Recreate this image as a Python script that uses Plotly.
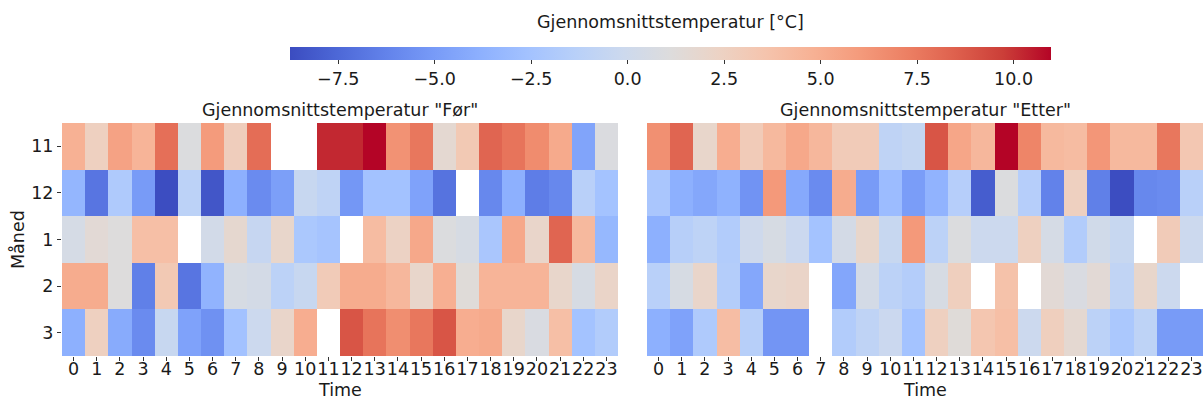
import plotly.graph_objects as go

hours = list(range(24))
months = ["11", "12", "1", "2", "3"]
N = None

before_11 = [4.8, 2.6, 5.6, 4.6, 7.9, 1.0, 6.0, 2.8, 8.0, N, N, 10.2, 10.2, 11.0, 6.4, 7.6, 1.7, 3.2, 8.3, 7.7, 6.7, 5.2, -4.5, 0.9]
before_12 = [-3.4, -6.9, -1.9, -5.0, -8.7, -1.1, -8.3, -3.8, -5.8, -4.8, -0.4, -0.9, -5.2, -2.6, -2.6, -4.6, -7.0, N, -6.0, -3.8, -6.5, -6.0, -1.3, -2.5]
before_1 = [0.5, 1.5, 1.1, 3.9, 3.9, N, 0.3, 1.8, -0.5, 2.0, -2.1, -2.4, N, 4.1, 2.4, 5.3, 1.0, 0.6, -2.2, 5.3, 2.1, 8.3, 4.3, -3.3]
before_2 = [5.1, 5.1, 1.1, -6.4, 3.2, -6.9, -3.6, 0.6, 0.4, -1.1, -0.4, 3.0, 5.1, 5.1, 4.4, 2.0, 4.9, 1.3, 4.6, 4.6, 4.6, 2.0, 0.6, 2.2]
before_3 = [-3.8, 2.6, -4.1, -5.8, -0.4, -4.6, -5.5, -2.6, -0.1, 2.1, 5.0, N, 8.9, 7.7, 6.6, 7.6, 8.9, 5.0, 5.2, 2.0, 0.8, 3.9, -2.5, -1.7]

after_11 = [6.5, 8.3, 2.0, 5.0, 3.0, 4.3, 5.3, 4.4, 3.0, 3.0, -0.9, -0.6, 8.9, 5.4, 4.4, 11.0, 7.0, 4.3, 4.1, 6.2, 4.3, 4.3, 7.6, 3.3]
after_12 = [-2.2, -3.8, -4.3, -3.7, -5.4, 6.1, -4.2, -5.8, 5.1, -5.0, -3.0, -4.9, -3.6, -1.5, -8.0, 1.0, -1.5, -6.3, 2.6, -6.4, -8.7, -6.0, -5.8, -1.3]
after_1 = [-3.8, -1.4, -1.0, -1.7, 0.0, 0.6, -0.2, -2.5, 0.4, 2.0, -0.4, 6.1, -1.1, 1.0, -0.1, -0.1, 2.6, 0.5, -1.7, 0.2, -0.4, N, 3.0, -0.1]
after_2 = [-1.3, 0.6, 2.1, -1.6, -4.3, 2.0, 2.2, N, -4.4, 0.4, -1.1, -1.6, 0.6, 2.7, N, 3.7, N, 1.5, 0.8, 1.5, -0.8, 2.0, -0.1, N]
after_3 = [-3.8, -4.6, -1.9, 4.0, -1.4, -5.3, -5.3, N, -1.7, -0.9, -0.2, -2.5, 2.6, 1.3, 3.4, 3.9, -0.1, 2.7, 1.7, -1.1, -2.1, -1.0, -5.0, -5.0]

cb_ticks = [-7.5, -5.0, -2.5, 0.0, 2.5, 5.0, 7.5, 10.0]
cb_labels = ["\u22127.5", "\u22125.0", "\u22122.5", "0.0", "2.5", "5.0", "7.5", "10.0"]
vmin, vmax = -8.75, 10.97

coolwarm = [
    [0.0, "rgb(59,76,192)"], [0.0625, "rgb(77,104,215)"], [0.125, "rgb(98,130,234)"],
    [0.1875, "rgb(119,154,247)"], [0.25, "rgb(141,176,254)"], [0.3125, "rgb(163,194,255)"],
    [0.375, "rgb(184,208,249)"], [0.4375, "rgb(204,217,238)"], [0.5, "rgb(221,220,220)"],
    [0.5625, "rgb(236,211,197)"], [0.625, "rgb(245,196,173)"], [0.6875, "rgb(247,177,148)"],
    [0.75, "rgb(244,154,123)"], [0.8125, "rgb(236,127,99)"], [0.875, "rgb(222,96,77)"],
    [0.9375, "rgb(203,62,56)"], [1.0, "rgb(180,4,38)"],
]

FONT = "DejaVu Sans"
FS = 17.5
W, H = 1203, 401

def px(x):
    return x / W

def py(y):
    return 1 - y / H

fig = go.Figure()
fig.add_trace(go.Heatmap(
    z=[before_11, before_12, before_1, before_2, before_3], x=hours, y=months,
    coloraxis="coloraxis", xaxis="x", yaxis="y", hoverongaps=False))
fig.add_trace(go.Heatmap(
    z=[after_11, after_12, after_1, after_2, after_3], x=hours, y=months,
    coloraxis="coloraxis", xaxis="x2", yaxis="y2", hoverongaps=False))

ydom = [py(356), py(123)]
tf = dict(family=FONT, size=FS, color="#1a1a1a")
common_x = dict(range=[-0.5, 23.5], tickmode="array", tickvals=hours, ticktext=[str(h) for h in hours],
                ticks="", showgrid=False, zeroline=False,
                minor=dict(tickmode="array", tickvals=hours, ticks="outside", ticklen=4,
                           tickcolor="#333", showgrid=False),
                showline=False, tickfont=tf, tickangle=0, automargin=False)
fig.update_layout(
    width=W, height=H, margin=dict(l=0, r=0, t=0, b=0, autoexpand=False),
    paper_bgcolor="white", plot_bgcolor="white",
    font=tf,
    xaxis=dict(domain=[px(62), px(618)], anchor="y", **common_x),
    xaxis2=dict(domain=[px(647), 1.0], anchor="y2", **common_x),
    yaxis=dict(domain=ydom, anchor="x", type="category", autorange="reversed", automargin=False,
               ticks="outside", ticklen=4, tickcolor="#333", showgrid=False, zeroline=False,
               tickfont=tf),
    yaxis2=dict(domain=ydom, anchor="x2", type="category", autorange="reversed", automargin=False,
                showticklabels=False, ticks="", showgrid=False, zeroline=False),
    coloraxis=dict(
        colorscale=coolwarm, cmin=vmin, cmax=vmax,
        colorbar=dict(orientation="h", x=px(670.5), xanchor="center", len=px(1051 - 290),
                      lenmode="fraction", y=py(47), yanchor="top", thickness=13,
                      outlinewidth=0, ticks="outside", ticklen=4, tickcolor="#333",
                      tickmode="array", tickvals=cb_ticks, ticktext=cb_labels,
                      tickfont=tf, xpad=0, ypad=0)),
    annotations=[
        dict(text="Gjennomsnittstemperatur [°C]", x=px(670.5), y=py(22), xref="paper", yref="paper",
             showarrow=False, font=tf, xanchor="center", yanchor="middle"),
        dict(text='Gjennomsnittstemperatur "Før"', x=px(340), y=py(110), xref="paper", yref="paper",
             showarrow=False, font=tf, xanchor="center", yanchor="middle"),
        dict(text='Gjennomsnittstemperatur "Etter"', x=px(925), y=py(110), xref="paper", yref="paper",
             showarrow=False, font=tf, xanchor="center", yanchor="middle"),
        dict(text="Time", x=px(340), y=py(401), xref="paper", yref="paper",
             showarrow=False, font=tf, xanchor="center", yanchor="bottom", borderpad=0),
        dict(text="Time", x=px(925), y=py(401), xref="paper", yref="paper",
             showarrow=False, font=tf, xanchor="center", yanchor="bottom", borderpad=0),
        dict(text="Måned", x=px(18), y=py(240), xref="paper", yref="paper", textangle=-90,
             showarrow=False, font=tf, xanchor="center", yanchor="middle"),
    ],
)

fig.write_html("out.html")
